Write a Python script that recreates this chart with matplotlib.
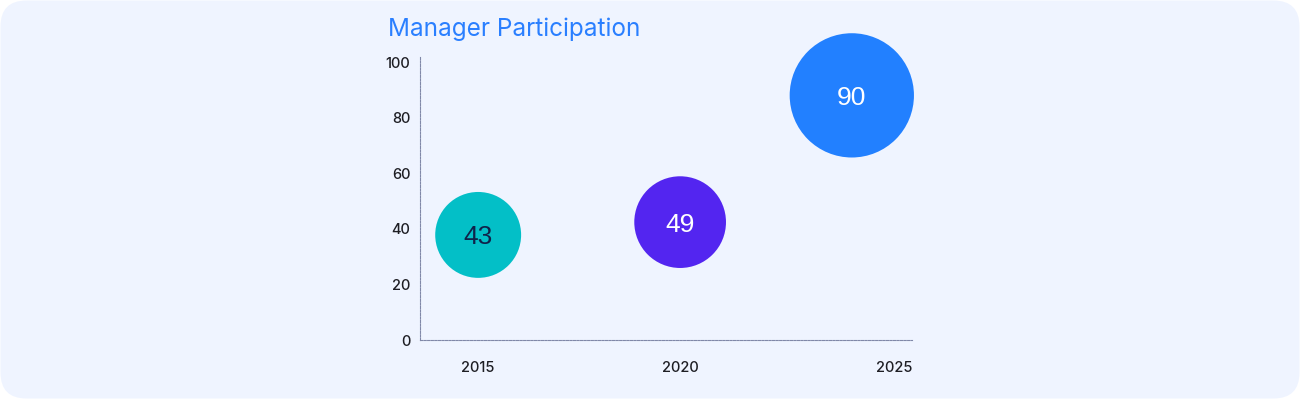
import matplotlib.pyplot as plt
import numpy as np
from matplotlib.patches import FancyBboxPatch

# bubble data
years = [2015, 2020, 2024.25]
y_pos = [37.8, 42.4, 88.0]
values = [43, 49, 90]
colors = ["#03BFC7", "#5325F0", "#2280FF"]
text_colors = ["#10224A", "#FFFFFF", "#FFFFFF"]

x_ticks = [2015, 2020, 2025.74]
x_labels = ["2015", "2020", "2025"]
y_ticks = [0, 20, 40, 60, 80, 100]

title = "Manager Participation"

BG = "#EFF4FF"
AXIS_C = "#8088A8"
FONT = "Inter"

fig = plt.figure(figsize=(13, 3.99), dpi=100)
fig.patch.set_facecolor("white")

# rounded panel behind everything
bg_ax = fig.add_axes([0, 0, 1, 1], zorder=-1)
bg_ax.set_xlim(0, 1300)
bg_ax.set_ylim(0, 399)
bg_ax.axis("off")
bg_ax.add_patch(FancyBboxPatch((0.5, 0.5), 1299, 398,
                               boxstyle="round,pad=0,rounding_size=26",
                               fc=BG, ec="none"))

ax = fig.add_axes([420 / 1300, 59 / 399, 492 / 1300, 283 / 399])
ax.set_facecolor("none")
ax.set_xlim(2013.56, 2025.74)
ax.set_ylim(0, 101.8)

# radius in px ~ sqrt(value), converted to points^2 for scatter
radius_px = 6.55 * np.sqrt(values)
sizes = (2 * radius_px * 72 / fig.dpi) ** 2
ax.scatter(years, y_pos, s=sizes, c=colors, linewidths=0, clip_on=False, zorder=3)
for x, y, v, tc in zip(years, y_pos, values, text_colors):
    ax.text(x, y, str(v), ha="center", va="center_baseline", fontsize=19,
            color=tc, family="Liberation Sans", zorder=4)

for side in ["top", "right"]:
    ax.spines[side].set_visible(False)
for side in ["left", "bottom"]:
    ax.spines[side].set_color(AXIS_C)
    ax.spines[side].set_linewidth(0.8)
    ax.spines[side].set_linestyle((0, (2, 1.2)))

ax.set_yticks(y_ticks)
ax.set_yticklabels([str(t) for t in y_ticks])
ax.set_xticks(x_ticks)
ax.set_xticklabels(x_labels)
ax.tick_params(axis="both", length=0, labelsize=10.5, labelcolor="#1E1E24")
ax.tick_params(axis="y", pad=7)
ax.tick_params(axis="x", pad=15)
for lbl in ax.get_xticklabels() + ax.get_yticklabels():
    lbl.set_family(FONT)
    lbl.set_fontweight("medium")
ax.get_xticklabels()[-1].set_ha("right")

fig.text(388 / 1300, 1 - 36 / 399, title, fontsize=17.5, color="#2A7FFF",
         family=FONT, ha="left", va="baseline")

fig.savefig("out.png", dpi=100, facecolor=fig.get_facecolor())
